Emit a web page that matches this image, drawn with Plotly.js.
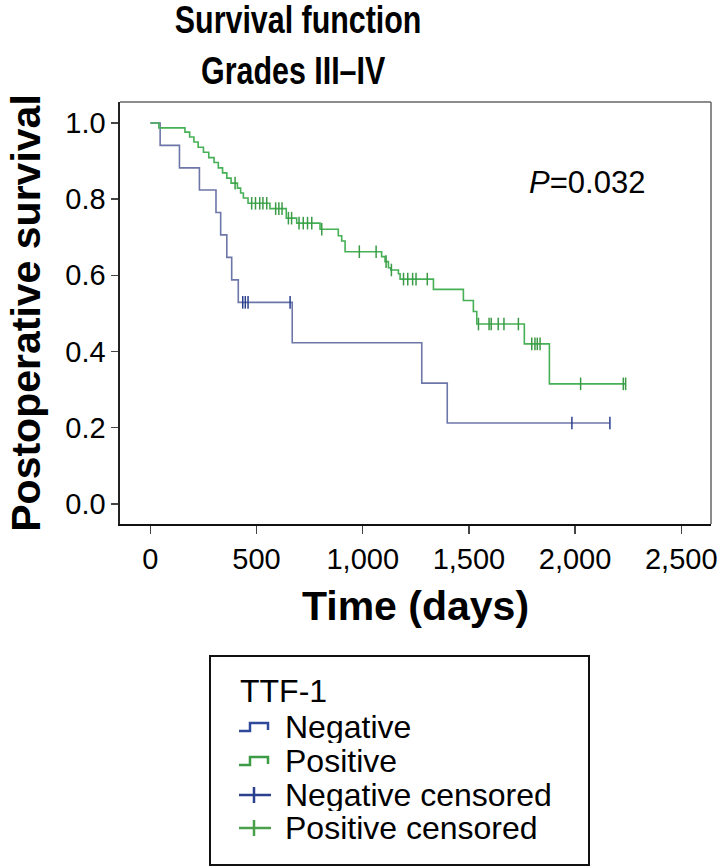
<!DOCTYPE html>
<html><head><meta charset="utf-8">
<script src="https://cdn.plot.ly/plotly-3.0.1.min.js"></script>
<style>body{margin:0;padding:0;background:#fff}#chart{width:722px;height:867px}</style>
</head><body><div id="chart"></div>
<script>
// ---- data ----
var negStepT = [0, 46, 137, 231, 309, 331, 360, 383, 414, 668, 1278, 1398, 2164];
var negStepS = [1.0, 0.941, 0.882, 0.824, 0.765, 0.706, 0.647, 0.588, 0.529, 0.423, 0.317, 0.212, 0.212];
var negCensT = [435, 447, 460, 658, 1985, 2164];

var posStepT = [0, 40, 163, 185, 205, 225, 250, 275, 300, 320, 340, 360, 380, 410, 425, 438, 460, 563, 640, 689, 799, 885, 901, 917, 1089, 1105, 1121, 1132, 1168, 1176, 1333, 1474, 1521, 1537, 1761, 1879, 2238];
var posStepS = [1.0, 0.987, 0.976, 0.963, 0.950, 0.936, 0.923, 0.909, 0.896, 0.882, 0.869, 0.855, 0.842, 0.829, 0.816, 0.803, 0.789, 0.775, 0.750, 0.737, 0.721, 0.704, 0.690, 0.662, 0.649, 0.636, 0.620, 0.614, 0.604, 0.590, 0.563, 0.534, 0.505, 0.472, 0.420, 0.315, 0.315];
var posCensT = [399, 477, 495, 515, 530, 548, 590, 605, 620, 650, 665, 700, 720, 740, 760, 807, 984, 1063, 1110, 1135, 1192, 1212, 1235, 1251, 1304, 1545, 1595, 1605, 1638, 1665, 1733, 1796, 1811, 1822, 1835, 2026, 2227, 2238];

var xTickVals = [0, 500, 1000, 1500, 2000, 2500];
var yTickVals = [0, 0.2, 0.4, 0.6, 0.8, 1.0];
var titleLines = ['Survival function', 'Grades III–IV'];
var legendTitle = 'TTF-1';
var legendLabels = ['Negative', 'Positive', 'Negative censored', 'Positive censored'];

// ---- helpers ----
function survAt(T, S, t) {
  var v = S[0];
  for (var i = 0; i < T.length; i++) { if (T[i] <= t) v = S[i]; }
  return v;
}
var negCensS = negCensT.map(function(t){ return survAt(negStepT, negStepS, t); });
var posCensS = posCensT.map(function(t){ return survAt(posStepT, posStepS, t); });

var cNegLine = '#6d76a8', cNegCens = '#2b3f8f';
var cPosLine = '#45b055', cPosCens = '#3a9a45';

var traces = [
  {x: negStepT, y: negStepS, mode: 'lines', line: {shape: 'hv', color: cNegLine, width: 1.6}, name: legendLabels[0], showlegend: false},
  {x: posStepT, y: posStepS, mode: 'lines', line: {shape: 'hv', color: cPosLine, width: 1.6}, name: legendLabels[1], showlegend: false},
  {x: negCensT, y: negCensS, mode: 'markers', marker: {symbol: 'line-ns', size: 9, line: {color: cNegCens, width: 1.5}}, name: legendLabels[2], showlegend: false},
  {x: posCensT, y: posCensS, mode: 'markers', marker: {symbol: 'line-ns', size: 9, line: {color: cPosCens, width: 1.5}}, name: legendLabels[3], showlegend: false}
];

// plot area in pixels: x 120..711, y 102..524
var L = 120, R = 711, T0 = 102, B = 524;
function px(x) { return (x - L) / (R - L); }
function py(y) { return (B - y) / (B - T0); }

var shapes = [];
shapes.push({type: 'line', xref: 'paper', yref: 'paper', x0: 0, x1: 1, y0: 1, y1: 1, line: {color: '#666', width: 1.5}});
shapes.push({type: 'line', xref: 'paper', yref: 'paper', x0: 1, x1: 1, y0: 0, y1: 1, line: {color: '#666', width: 1.5}});
shapes.push({type: 'rect', xref: 'paper', yref: 'paper', x0: px(210), x1: px(589), y0: py(656), y1: py(865), line: {color: '#111', width: 2}, fillcolor: 'rgba(0,0,0,0)'});
function stepIcon(cy, color) {
  var p = 'M' + px(239) + ',' + py(cy + 4) + ' L' + px(250) + ',' + py(cy + 4) + ' L' + px(250) + ',' + py(cy - 4) + ' L' + px(268) + ',' + py(cy - 4) + ' L' + px(268) + ',' + py(cy + 3);
  return {type: 'path', xref: 'paper', yref: 'paper', path: p, line: {color: color, width: 2.5}};
}
function crossIcon(cy, color) {
  return [
    {type: 'line', xref: 'paper', yref: 'paper', x0: px(239), x1: px(271), y0: py(cy), y1: py(cy), line: {color: color, width: 2.5}},
    {type: 'line', xref: 'paper', yref: 'paper', x0: px(254), x1: px(254), y0: py(cy - 8), y1: py(cy + 8), line: {color: color, width: 2.5}}
  ];
}
var itemY = [727, 761, 795, 828];
shapes.push(stepIcon(itemY[0], '#2f4a9a'));
shapes.push(stepIcon(itemY[1], '#3d9a45'));
shapes = shapes.concat(crossIcon(itemY[2], '#2b3f8f'));
shapes = shapes.concat(crossIcon(itemY[3], '#4aa04a'));

var titleFont = {family: 'Liberation Sans, Arial, sans-serif', size: 38, color: '#000', weight: 'bold'};
var legFont = {family: 'Liberation Sans, Arial, sans-serif', size: 32, color: '#000'};
var annotations = [
  {xref: 'paper', yref: 'paper', x: px(298), y: py(20), height: 40, text: titleLines[0], showarrow: false, xanchor: 'center', yanchor: 'middle', font: titleFont},
  {xref: 'paper', yref: 'paper', x: px(293), y: py(71), height: 40, text: titleLines[1], showarrow: false, xanchor: 'center', yanchor: 'middle', font: titleFont},
  {xref: 'paper', yref: 'paper', x: px(527), y: py(182), text: '<i>P</i>=0.032', showarrow: false, xanchor: 'left', yanchor: 'middle',
   font: {family: 'Liberation Sans, Arial, sans-serif', size: 31, color: '#000'}},
  {xref: 'paper', yref: 'paper', x: px(238), y: py(691), height: 32, text: legendTitle, showarrow: false, xanchor: 'left', yanchor: 'middle', font: legFont}
];
for (var i = 0; i < legendLabels.length; i++) {
  annotations.push({xref: 'paper', yref: 'paper', x: px(283), y: py(itemY[i]), height: 32, text: legendLabels[i], showarrow: false, xanchor: 'left', yanchor: 'middle', font: legFont});
}

var tickFont = {family: 'Liberation Sans, Arial, sans-serif', size: 29, color: '#000'};
var layout = {
  width: 722, height: 867,
  margin: {l: L, r: 722 - R, t: T0, b: 867 - B, pad: 0},
  paper_bgcolor: '#fff', plot_bgcolor: '#fff',
  showlegend: false,
  xaxis: {
    range: [-143, 2640], tickvals: xTickVals, ticktext: xTickVals.map(function(v){ return v.toLocaleString('en-US'); }),
    ticks: 'outside', ticklen: 8, tickwidth: 1.5, tickcolor: '#444',
    showgrid: false, zeroline: false, showline: true, mirror: false, linecolor: '#111', linewidth: 1.8,
    tickfont: tickFont,
    title: {text: 'Time (days)', font: {family: 'Liberation Sans, Arial, sans-serif', size: 41, color: '#000', weight: 'bold'}, standoff: 18}
  },
  yaxis: {
    range: [-0.053, 1.055], tickvals: yTickVals, ticktext: yTickVals.map(function(v){ return v.toFixed(1); }),
    ticks: 'outside', ticklen: 7, tickwidth: 1.5, tickcolor: '#444',
    showgrid: false, zeroline: false, showline: true, mirror: false, linecolor: '#222', linewidth: 1.6,
    tickfont: tickFont,
    title: {text: 'Postoperative survival', font: {family: 'Liberation Sans, Arial, sans-serif', size: 41, color: '#000', weight: 'bold'}, standoff: 12}
  },
  shapes: shapes,
  annotations: annotations
};

Plotly.newPlot('chart', traces, layout, {staticPlot: true, displayModeBar: false}).then(function(gd) {
  // condense the two title lines horizontally (reference uses a narrow bold face)
  var anns = gd.querySelectorAll('.annotation');
  for (var k = 0; k < 2 && k < anns.length; k++) {
    var t = anns[k].querySelector('text');
    if (!t) continue;
    var bb = t.getBBox();
    var cx = bb.x + bb.width / 2;
    var prev = t.getAttribute('transform') || '';
    t.setAttribute('transform', prev + ' translate(' + cx + ',0) scale(0.8,1) translate(' + (-cx) + ',0)');
  }
});
</script>
</body></html>
